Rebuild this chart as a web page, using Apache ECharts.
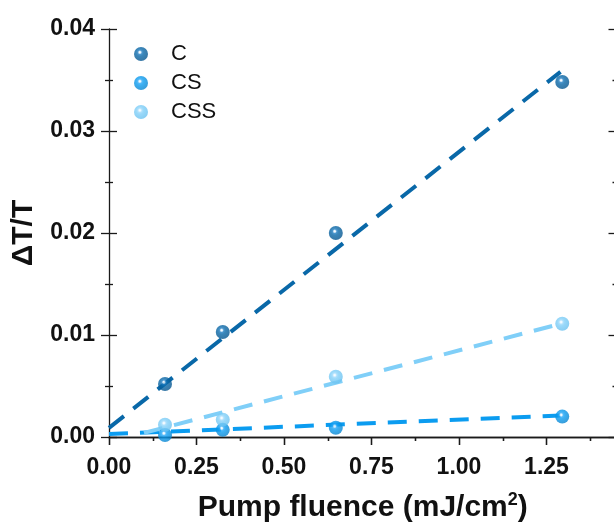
<!DOCTYPE html>
<html><head><meta charset="utf-8">
<script src="https://cdn.jsdelivr.net/npm/echarts@6/dist/echarts.min.js"></script>
<style>html,body{margin:0;padding:0;background:#fff}#c{width:614px;height:522px}</style>
</head><body><div id="c"></div>
<script>
// data
var seriesNames = ['C', 'CS', 'CSS'];
var fluence = [0.16, 0.325, 0.648, 1.295];
var dataC = [0.0052, 0.0103, 0.0200, 0.0348];
var dataCS = [0.0002, 0.0007, 0.0009, 0.0020];
var dataCSS = [0.0012, 0.0017, 0.0059, 0.0111];
var fitC = [[0, 0.0009], [1.29, 0.0358]];
var fitCS = [[0, 0.0003], [1.29, 0.0021]];
var fitCSS = [[0.1, 0.0004], [1.29, 0.0111]];
var xTicks = ['0.00', '0.25', '0.50', '0.75', '1.00', '1.25'];

var colors = {C: ['#1f7cc0', '#0968a8', '#055690'], CS: ['#2aa8f6', '#0b9cf0', '#0786d2'], CSS: ['#9bd9fb', '#80cff8', '#6cc2f0']};
function grad(k) {
  var c = colors[k];
  return {type: 'radial', x: 0.42, y: 0.38, r: 0.6, colorStops: [
    {offset: 0, color: '#ffffff'}, {offset: 0.1, color: '#eaf6ff'}, {offset: 0.26, color: c[0]}, {offset: 0.45, color: c[1]}, {offset: 1, color: c[2]}]};
}
function pts(ys) { return fluence.map(function (x, i) { return [x, ys[i]]; }); }
var FONT = '"Liberation Sans", Arial, sans-serif';
var axisCol = '#1a1a1a';

var chart = echarts.init(document.getElementById('c'), null, {renderer: 'canvas'});
var commonX = {type: 'value', min: 0, max: 1.45, interval: 0.25};
var commonY = {type: 'value', min: 0, max: 0.04, interval: 0.01};
function lineS(data, col) {
  return {type: 'line', data: data, symbol: 'none', silent: true, z: 2, xAxisIndex: 0, yAxisIndex: 0,
    lineStyle: {color: col, width: 4, type: [19, 12], cap: 'butt'}};
}
function scat(name, data) {
  return {type: 'scatter', name: name, data: data, symbol: 'circle', symbolSize: 14, z: 3, xAxisIndex: 0, yAxisIndex: 0,
    itemStyle: {color: grad(name)}};
}
chart.setOption({
  animation: false,
  grid: {left: 109, top: 29, width: 507.5, height: 408, containLabel: false, outerBoundsMode: 'none'},
  legend: {data: seriesNames.map(function (n) { return {name: n, icon: 'circle'}; }), orient: 'vertical', left: 129, top: 38,
    itemWidth: 14, itemHeight: 14, itemGap: 7,
    textStyle: {fontFamily: FONT, fontSize: 22, color: '#111', padding: [0, 0, 0, 18]}},
  xAxis: [
    Object.assign({}, commonX, {position: 'bottom',
      name: 'Pump fluence (mJ/cm{sup|2})', nameLocation: 'middle', nameGap: 54,
      nameTextStyle: {fontFamily: FONT, fontSize: 30, fontWeight: 'bold', color: '#111',
        rich: {sup: {fontFamily: FONT, fontSize: 18, fontWeight: 'bold', color: '#111', verticalAlign: 'top', padding: [0, 0, 15, 0]}}},
      axisLine: {lineStyle: {color: axisCol, width: 1.3}},
      axisTick: {inside: false, length: 8, lineStyle: {color: axisCol, width: 1.3}},
      minorTick: {show: true, splitNumber: 2, length: 4, lineStyle: {color: axisCol, width: 1.3}},
      splitLine: {show: false},
      axisLabel: {margin: 19, fontFamily: FONT, fontSize: 23, fontWeight: 'bold', color: '#111',
        formatter: function (v) { var i = Math.round(v / 0.25); return xTicks[i] !== undefined ? xTicks[i] : ''; }}}),
    Object.assign({}, commonX, {position: 'top',
      axisLine: {lineStyle: {color: axisCol, width: 1.3}},
      axisTick: {inside: true, length: 8, lineStyle: {color: axisCol, width: 1.3}},
      minorTick: {show: true, splitNumber: 2, length: 4, lineStyle: {color: axisCol, width: 1.3}},
      splitLine: {show: false}, axisLabel: {show: false}})
  ],
  yAxis: [
    Object.assign({}, commonY, {position: 'left',
      name: 'ΔT/T', nameLocation: 'middle', nameGap: 70, nameRotate: 90,
      nameTextStyle: {fontFamily: FONT, fontSize: 30, fontWeight: 'bold', color: '#111'},
      axisLine: {lineStyle: {color: axisCol, width: 1.3}},
      axisTick: {inside: false, length: 8, lineStyle: {color: axisCol, width: 1.3}},
      minorTick: {show: true, splitNumber: 2, length: 4, lineStyle: {color: axisCol, width: 1.3}},
      splitLine: {show: false},
      axisLabel: {margin: 14, fontFamily: FONT, fontSize: 23, fontWeight: 'bold', color: '#111',
        formatter: function (v) { return v.toFixed(2); }}}),
    Object.assign({}, commonY, {position: 'left',
      axisLine: {show: false},
      axisTick: {inside: true, length: 8, lineStyle: {color: axisCol, width: 1.3}},
      minorTick: {show: true, splitNumber: 2, length: 4, lineStyle: {color: axisCol, width: 1.3}},
      splitLine: {show: false}, axisLabel: {show: false}}),
    Object.assign({}, commonY, {position: 'right',
      axisLine: {show: true, lineStyle: {color: axisCol, width: 1.3}},
      axisTick: {inside: true, length: 8, lineStyle: {color: axisCol, width: 1.3}},
      minorTick: {show: true, splitNumber: 2, length: 4, lineStyle: {color: axisCol, width: 1.3}},
      splitLine: {show: false}, axisLabel: {show: false}})
  ],
  series: [
    lineS(fitC, colors.C[1]),
    lineS(fitCS, colors.CS[1]),
    lineS(fitCSS, colors.CSS[1]),
    scat('C', pts(dataC)),
    scat('CS', pts(dataCS)),
    scat('CSS', pts(dataCSS))
  ]
});
</script></body></html>
